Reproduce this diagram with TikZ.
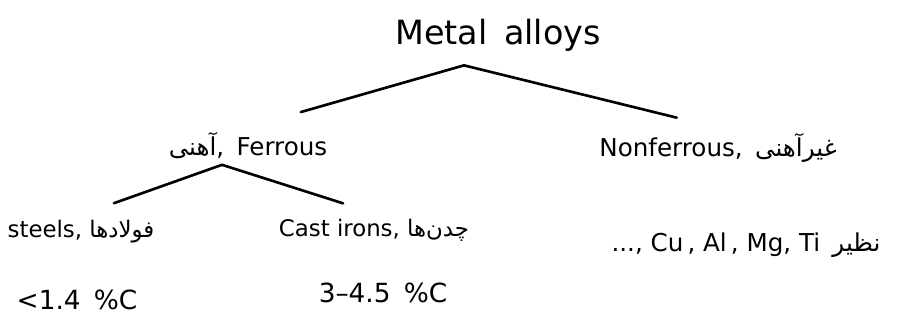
\documentclass[tikz,border=0pt]{standalone}
\usepackage{fontspec}
\setmainfont{DejaVu Sans}
\newfontfamily\persianfont[Script=Arabic]{DejaVu Sans}
\TeXXeTstate=1
\newcommand{\fatext}[1]{{\persianfont\beginR #1\endR}}
\usetikzlibrary{positioning,calc}

\begin{document}
\begin{tikzpicture}[
  x=0.02cm, y=-0.02cm,
  font=\fontsize{13}{15}\selectfont,
  branch/.style={line width=1.5pt, line cap=round},
  head/.style={font=\fontsize{19}{22}\selectfont},
  item/.style={inner sep=3pt},
  big/.style={item, font=\fontsize{14}{17}\selectfont},
  carbon/.style={item, font=\fontsize{15}{18}\selectfont}
]
\useasboundingbox (0,0) rectangle (923,327);

\node[head] (root) at (498,35) {Metal\enspace alloys};

% Second level
\node[big] (ferrous)    at (248,146) {\fatext{آهنی},\enspace Ferrous};
\node[big] (nonferrous) at (718,148) {Nonferrous,\enspace \fatext{غیرآهنی}};

\coordinate (rootfork) at ($(root.south)+(-34,8)$);
\draw[branch, shorten >=1.1cm] (rootfork) -- (ferrous.north);
\draw[branch, shorten >=0.85cm] (rootfork) -- (nonferrous.north);

% Ferrous alloys
\node[item] (steels)    at (81,232)  {steels, \fatext{فولادها}};
\node[item] (castirons) at (374,230) {Cast irons, \fatext{چدن‌ها}};

\coordinate (ferrousfork) at ($(ferrous.south)+(-26,0)$);
\draw[branch, shorten >=0.7cm] (ferrousfork) -- (steels.north);
\draw[branch, shorten >=0.65cm] (ferrousfork) -- (castirons.north);

% Carbon content
\node[carbon] (steelsC) at (77,300)  {<1.4\enspace\%C};
\node[carbon] (castC)   at (383,293) {3–4.5\enspace\%C};

% Nonferrous examples
\node[big] (nflist) at (746,245) {..., Cu\,, Al\,, Mg, Ti\enspace\fatext{نظیر}};

\end{tikzpicture}
\end{document}
